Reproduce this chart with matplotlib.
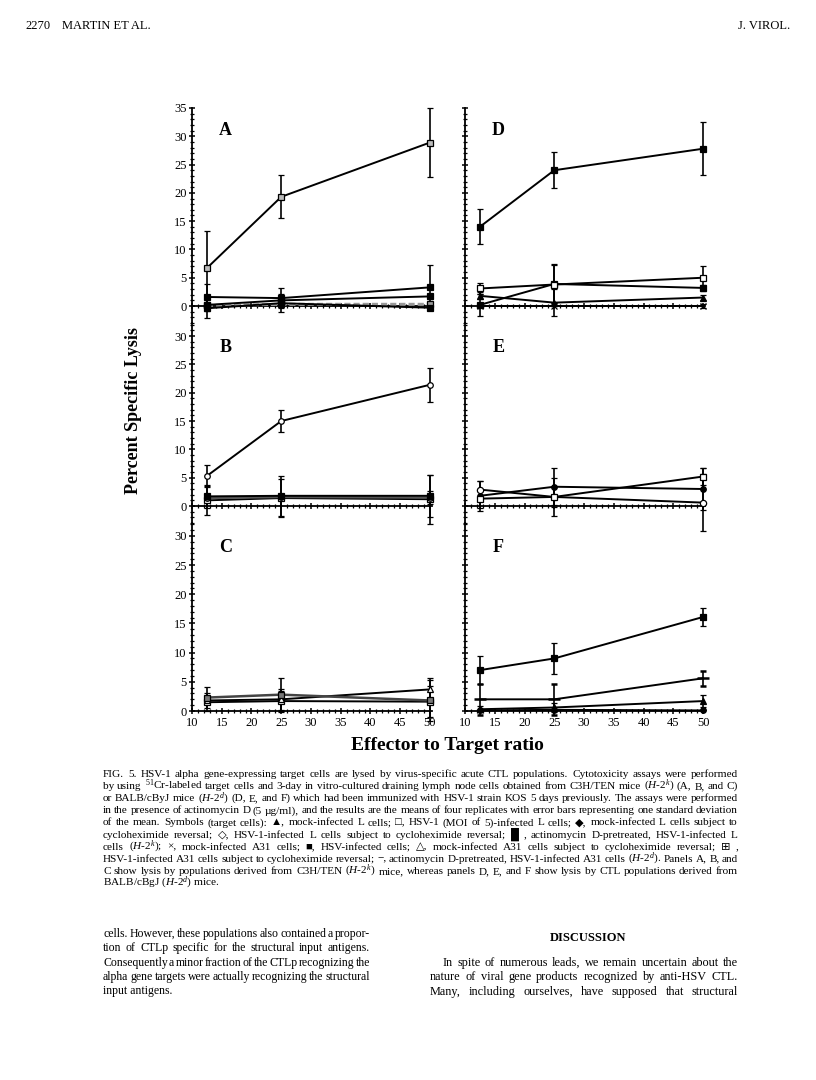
import matplotlib
matplotlib.use("Agg")
import matplotlib.pyplot as plt
from matplotlib.ticker import MultipleLocator

plt.rcParams['font.family'] = ['Liberation Serif', 'DejaVu Sans']
plt.rcParams['mathtext.fontset'] = 'custom'
plt.rcParams['mathtext.rm'] = 'Liberation Serif'
plt.rcParams['mathtext.it'] = 'Liberation Serif:italic'
plt.rcParams['mathtext.bf'] = 'Liberation Serif:bold'

# ---------------- DATA ----------------
ratio = [12.5, 25, 50]          # effector : target ratio
x_ticks = [10, 15, 20, 25, 30, 35, 40, 45, 50]

# panel A  (C3H/TEN effectors, L cell targets)
a_hsv = [6.7, 19.3, 28.9];      a_hsv_sd = [6.6, 3.8, 6.1]
a_actd = [1.6, 1.4, 3.3];       a_actd_sd = [2.3, 1.8, 4.0]
a_mock_chx = [0.2, 1.0, 1.7];   a_mock_chx_sd = [1.0, 0.9, 0.5]
a_hsv_chx = [0.1, 0.3, 0.3];    a_hsv_chx_sd = [0.0, 0.0, 0.0]
a_mock = [-0.4, 0.5, -0.3];     a_mock_sd = [1.7, 1.6, 0.4]

# panel B
b_hsv_chx = [5.3, 15.0, 21.4];  b_hsv_chx_sd = [2.0, 1.9, 3.0]
b_actd = [1.7, 1.8, 1.8];       b_actd_sd = [2.0, 3.5, 3.7]
b_hsv = [1.0, 1.4, 1.2];        b_hsv_sd = [2.6, 3.4, 4.3]
b_mock_chx = [1.4, 1.6, 1.5];   b_mock_chx_sd = [0.5, 0.5, 1.2]

# panel C
c_actd = [2.3, 2.8, 1.8];       c_actd_sd = [1.8, 2.9, 3.5]
c_mock = [1.8, 2.0, 3.7];       c_mock_sd = [0.5, 1.8, 2.0]
c_hsv = [1.5, 1.7, 1.6];        c_hsv_sd = [1.5, 1.7, 2.6]

# panel D  (BALB/c effectors, A31 targets)
d_hsv = [14.0, 24.0, 27.8];     d_hsv_sd = [3.1, 3.2, 4.7]
d_hsv_chx = [3.1, 3.8, 5.0];    d_hsv_chx_sd = [1.0, 3.6, 2.1]
d_actd = [0.2, 3.9, 3.2];       d_actd_sd = [2.0, 3.4, 0.5]
d_mock_chx = [1.8, 0.6, 1.5];   d_mock_chx_sd = [0.6, 2.4, 0.4]
d_mock = [0.0, 0.0, 0.0];       d_mock_sd = [0.0, 0.0, 0.4]

# panel E
e_hsv_chx = [1.3, 1.6, 5.2];    e_hsv_chx_sd = [1.6, 1.8, 1.5]
e_hsv = [1.8, 3.4, 3.0];        e_hsv_sd = [2.6, 3.3, 3.7]
e_mock_chx = [2.9, 1.6, 0.6];   e_mock_chx_sd = [1.5, 3.3, 5.0]

# panel F
f_hsv = [7.0, 9.0, 16.1];       f_hsv_sd = [2.4, 2.7, 1.5]
f_actd = [2.0, 2.0, 5.6];       f_actd_sd = [2.6, 2.7, 1.3]
f_mock_chx = [0.3, 0.6, 1.7];   f_mock_chx_sd = [0.5, 0.8, 1.0]
f_mock = [0.1, 0.2, 0.1];       f_mock_sd = [0.0, 0.0, 0.0]

HK = "($\\mathit{H}$-$\\mathit{2}^{k}$)"
HD = "($\\mathit{H}$-$\\mathit{2}^{d}$)"
caption = [
    "FIG. 5. HSV-1 alpha gene-expressing target cells are lysed by virus-specific acute CTL populations. Cytotoxicity assays were performed",
    "by using $^{51}$Cr-labeled target cells and 3-day in vitro-cultured draining lymph node cells obtained from C3H/TEN mice " + HK + " (A, B, and C)",
    "or BALB/cByJ mice " + HD + " (D, E, and F) which had been immunized with HSV-1 strain KOS 5 days previously. The assays were performed",
    "in the presence of actinomycin D (5 \u00b5g/ml), and the results are the means of four replicates with error bars representing one standard deviation",
    "of the mean. Symbols (target cells): \u25b2, mock-infected L cells; \u25a1, HSV-1 (MOI of 5)-infected L cells; \u25c6, mock-infected L cells subject to",
    "cycloheximide reversal; \u25c7, HSV-1-infected L cells subject to cycloheximide reversal; \u2588 , actinomycin D-pretreated, HSV-1-infected L",
    "cells " + HK + "; \u00d7, mock-infected A31 cells; \u25a0, HSV-infected cells; \u25b3, mock-infected A31 cells subject to cycloheximide reversal; \u229e ,",
    "HSV-1-infected A31 cells subject to cycloheximide reversal; \u2212, actinomycin D-pretreated, HSV-1-infected A31 cells " + HD + ". Panels A, B, and",
    "C show lysis by populations derived from C3H/TEN " + HK + " mice, whereas panels D, E, and F show lysis by CTL populations derived from",
    "BALB/cBgJ " + HD + " mice.",
]
body_left = [
    "cells. However, these populations also contained a propor-",
    "tion of CTLp specific for the structural input antigens.",
    "Consequently a minor fraction of the CTLp recognizing the",
    "alpha gene targets were actually recognizing the structural",
    "input antigens.",
]
body_right = [
    "In spite of numerous leads, we remain uncertain about the",
    "nature of viral gene products recognized by anti-HSV CTL.",
    "Many, including ourselves, have supposed that structural",
]

# ---------------- FIGURE ----------------
W, H = 816, 1080
fig = plt.figure(figsize=(W / 100, H / 100), dpi=100)


def box(x0, x1, ytop, ybot):
    return [x0 / W, 1 - ybot / H, (x1 - x0) / W, (ybot - ytop) / H]


XMAX = 50.4
colw = 238 * (XMAX - 10) / 40
rows = [(108, 323, (-3, 35)), (323, 523, (-3, 32.3)), (523, 711, (0, 32.2))]
cols = [192, 465]


def setup(ax, ylim, left_labels, bottom_labels):
    ax.set_xlim(10, XMAX)
    ax.set_ylim(*ylim)
    ax.patch.set_visible(False)
    for s in ['top', 'right']:
        ax.spines[s].set_visible(False)
    ax.spines['left'].set_linewidth(1.3)
    ax.spines['bottom'].set_linewidth(1.3)
    ax.spines['bottom'].set_position(('data', 0))
    ax.xaxis.set_major_locator(MultipleLocator(5))
    ax.xaxis.set_minor_locator(MultipleLocator(1))
    ax.yaxis.set_major_locator(MultipleLocator(5))
    ax.yaxis.set_minor_locator(MultipleLocator(1))
    ax.tick_params(which='major', direction='inout', length=5, width=1.1,
                   labelsize=9, pad=1.5, labelleft=left_labels,
                   labelbottom=bottom_labels)
    ax.tick_params(which='minor', direction='inout', length=3, width=0.9)


def series(ax, y, sd, marker, mfc='k', ms=4, color='k', lw=1.4, ls='-', mew=0.9):
    cont = ax.errorbar(ratio, y, yerr=sd, color=color, lw=lw, ls=ls,
                       marker=marker, mfc=mfc, mec='k', ms=ms, mew=mew,
                       ecolor='k', elinewidth=1.2, capsize=2.5, capthick=1.2,
                       zorder=3)
    for art in cont.get_children():
        art.set_clip_on(False)


axes = {}
letters = [['A', 'D'], ['B', 'E'], ['C', 'F']]
for r, (yt, yb, lim) in enumerate(rows):
    for c, x0 in enumerate(cols):
        ax = fig.add_axes(box(x0, x0 + colw, yt, yb))
        setup(ax, lim, c == 0, r == 2)
        lab_y = 31.1 if r == 0 else 28
        ax.text(15.6, lab_y, letters[r][c], ha='center', va='center',
                fontsize=13, fontweight='bold')
        axes[letters[r][c]] = ax

ax = axes['A']
series(ax, a_hsv_chx, a_hsv_chx_sd, 's', mfc='#9a9a9a', ms=4, color='#9a9a9a', lw=2.2, ls=(0, (2, 1)))
series(ax, a_mock, a_mock_sd, 's', ms=5)
series(ax, a_mock_chx, a_mock_chx_sd, 's', ms=4.5)
series(ax, a_actd, a_actd_sd, 's', ms=5)
series(ax, a_hsv, a_hsv_sd, 's', mfc='#bbbbbb', ms=4.5)

ax = axes['B']
series(ax, b_hsv, b_hsv_sd, 's', mfc='w', ms=4)
series(ax, b_mock_chx, b_mock_chx_sd, 'o', mfc='#888888', ms=4, color='#555555', lw=1.8)
series(ax, b_actd, b_actd_sd, 's', ms=4.5)
series(ax, b_hsv_chx, b_hsv_chx_sd, 'o', mfc='w', ms=4)

ax = axes['C']
series(ax, c_hsv, c_hsv_sd, 's', mfc='w', ms=4)
series(ax, c_mock, c_mock_sd, '^', mfc='w', ms=4.5)
series(ax, c_actd, c_actd_sd, 's', mfc='#777777', ms=5, color='#444444', lw=1.8)

ax = axes['D']
series(ax, d_mock, d_mock_sd, 'x', ms=4)
series(ax, d_mock_chx, d_mock_chx_sd, '^', ms=4)
series(ax, d_actd, d_actd_sd, 's', ms=4.5)
series(ax, d_hsv_chx, d_hsv_chx_sd, 's', mfc='w', ms=4.5)
series(ax, d_hsv, d_hsv_sd, 's', ms=4.5)

ax = axes['E']
series(ax, e_hsv, e_hsv_sd, 'o', ms=4)
series(ax, e_mock_chx, e_mock_chx_sd, 'o', mfc='w', ms=4.5)
series(ax, e_hsv_chx, e_hsv_chx_sd, 's', mfc='w', ms=4.5)

ax = axes['F']
series(ax, f_mock, f_mock_sd, 'o', ms=4)
series(ax, f_mock_chx, f_mock_chx_sd, '^', ms=4.5)
series(ax, f_actd, f_actd_sd, '_', ms=9, mew=1.8)
series(ax, f_hsv, f_hsv_sd, 's', ms=4.5)

axes['C'].set_xticks(x_ticks)
axes['F'].set_xticks(x_ticks)

fig.text(133 / W, 1 - 410 / H, "Percent Specific Lysis", rotation=90,
         ha='center', va='center', fontsize=13, fontweight='bold')
fig.text(447 / W, 1 - 746 / H, "Effector to Target ratio",
         ha='center', va='center', fontsize=14, fontweight='bold')

# ---------------- PAGE TEXT ----------------
renderer = fig.canvas.get_renderer()


def word_widths(words, fs):
    out = []
    for w in words:
        t = fig.text(0, 0, w, fontsize=fs)
        out.append(t.get_window_extent(renderer).width)
        t.remove()
    return out


def block_size(lines, width, fs, gap_em=0.22):
    # one font size for a whole block so every line fits its column
    k = 1.0
    min_gap = gap_em * fs * 100 / 72
    for line in lines:
        words = line.split(' ')
        need = sum(word_widths(words, fs)) + min_gap * (len(words) - 1)
        k = min(k, width / need)
    return fs * k


def put_line(text, x0, x1, y, fs, justify=True, **kw):
    if not justify:
        fig.text(x0 / W, 1 - y / H, text, fontsize=fs, ha='left', va='baseline', **kw)
        return
    words = text.split(' ')
    widths = word_widths(words, fs)
    gap = (x1 - x0 - sum(widths)) / max(len(words) - 1, 1)
    x = x0
    for w, wd in zip(words, widths):
        fig.text(x / W, 1 - y / H, w, fontsize=fs, ha='left', va='baseline', **kw)
        x += wd + gap


fig.text(25 / W, 1 - 29 / H, "2270", fontsize=9, va='baseline')
fig.text(62 / W, 1 - 29 / H, "MARTIN ET AL.", fontsize=9, va='baseline')
fig.text(790 / W, 1 - 29 / H, "J. VIROL.", fontsize=9, va='baseline', ha='right')

fs_cap = block_size(caption[:-1], 635, 8.2)
for i, line in enumerate(caption):
    put_line(line, 103, 738, 777 + i * 12.1, fs_cap, justify=(i < len(caption) - 1))

fs_left = block_size(body_left[:-1], 267, 9.0, gap_em=0.12)
for i, line in enumerate(body_left):
    put_line(line, 103, 370, 937 + i * 14.3, fs_left, justify=(i < len(body_left) - 1))

fig.text(588 / W, 1 - 941 / H, "DISCUSSION", fontsize=9, fontweight='bold',
         ha='center', va='baseline')
fs_right = block_size(body_right, 295, 9.6, gap_em=0.25)
for i, line in enumerate(body_right):
    put_line(line, 443 if i == 0 else 430, 738, 966 + i * 14.3, fs_right)

fig.savefig("out.png", dpi=100)
